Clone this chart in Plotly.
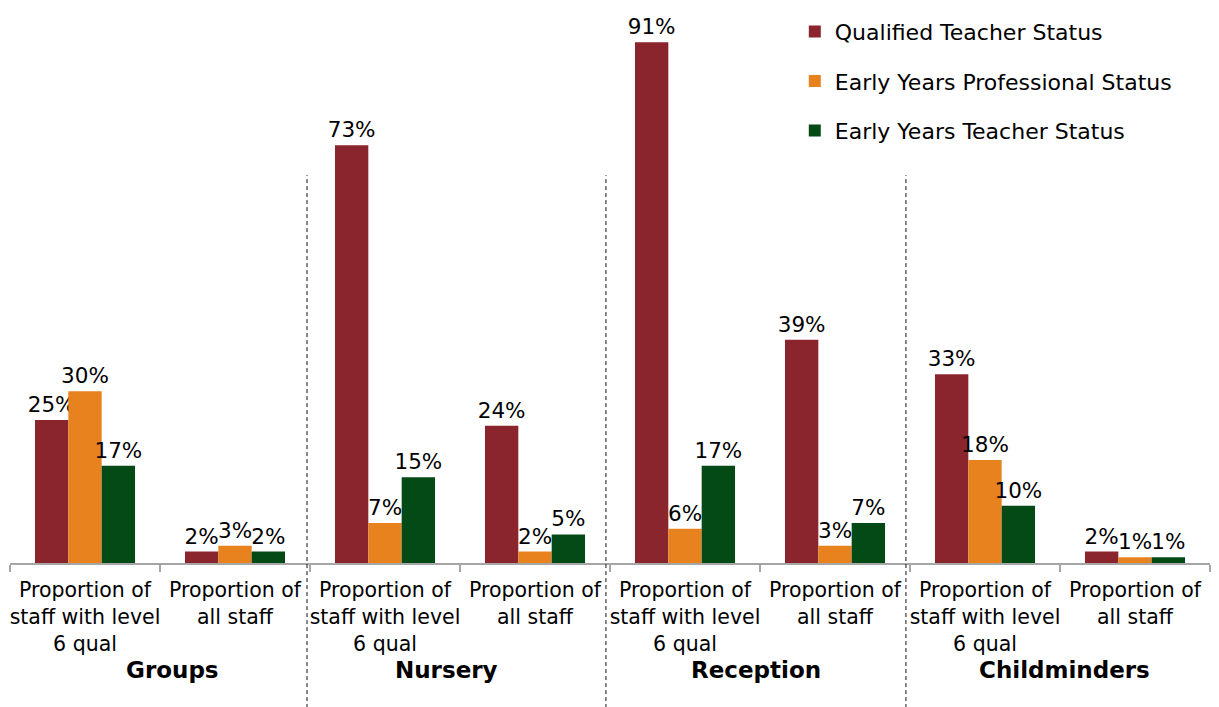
import plotly.graph_objects as go

categories = ["Proportion of<br>staff with level<br>6 qual", "Proportion of<br>all staff"] * 4
groups = ["Groups", "Nursery", "Reception", "Childminders"]
series_names = ["Qualified Teacher Status", "Early Years Professional Status", "Early Years Teacher Status"]
qts = [25, 2, 73, 24, 91, 39, 33, 2]
eyps = [30, 3, 7, 2, 6, 3, 18, 1]
eyts = [17, 2, 15, 5, 17, 7, 10, 1]
colors = ["#8A252D", "#E8821E", "#034A16"]

x = list(range(len(categories)))
fig = go.Figure()
for i, (name, vals) in enumerate(zip(series_names, [qts, eyps, eyts])):
    fig.add_trace(go.Bar(
        x=x, y=vals, name=name, marker=dict(color=colors[i], line=dict(width=0)),
        text=[f"{v}%" for v in vals], textposition="outside", constraintext="none",
        cliponaxis=False, textfont=dict(family="DejaVu Sans", size=21.5, color="black"),
        legendgroup=name,
    ))

shapes = []
for xv in [1.48, 3.473, 5.473]:
    shapes.append(dict(type="line", xref="x", yref="paper", x0=xv, x1=xv,
                       y0=-0.26, y1=0.695, line=dict(color="#111111", width=1, dash="4px,3px")))

group_label_shift = [0.08, -0.087, -0.027, 0.027]
annotations = []
for gi, g in enumerate(groups):
    annotations.append(dict(x=2 * gi + 0.5 + group_label_shift[gi], y=-0.192, xref="x", yref="paper",
                            text=f"<b>{g}</b>", showarrow=False, yanchor="middle",
                            font=dict(family="DejaVu Sans", size=23, color="black")))

fig.update_layout(
    width=1219, height=707, margin=dict(l=10, r=9, t=5, b=144, autoexpand=False),
    paper_bgcolor="white", plot_bgcolor="white",
    barmode="group", bargap=0.333, bargroupgap=0,
    font=dict(family="DejaVu Sans", color="black"),
    legend=dict(x=0.654, y=0.99, xanchor="left", yanchor="top", traceorder="grouped",
                tracegroupgap=18, font=dict(family="DejaVu Sans", size=22, color="black"),
                bgcolor="rgba(0,0,0,0)"),
    shapes=shapes, annotations=annotations,
    xaxis=dict(range=[-0.5, 7.5], tickvals=x, ticktext=categories, ticks="",
               automargin=False, ticklabelstandoff=8,
               showline=True, linecolor="#A6A6A6", linewidth=1.5, showgrid=False, zeroline=False,
               tickfont=dict(family="DejaVu Sans", size=20.5, color="black"),
               minor=dict(tickvals=[v - 0.5 for v in range(9)], ticks="outside", ticklen=7,
                          tickcolor="#A6A6A6", tickwidth=1.5, showgrid=False)),
    yaxis=dict(range=[0, 97.5], visible=False, showgrid=False, zeroline=False, automargin=False),
)
fig.write_html("out.html", config={"displayModeBar": False},
               post_script="document.body.style.margin='0';document.body.style.overflow='hidden';")
